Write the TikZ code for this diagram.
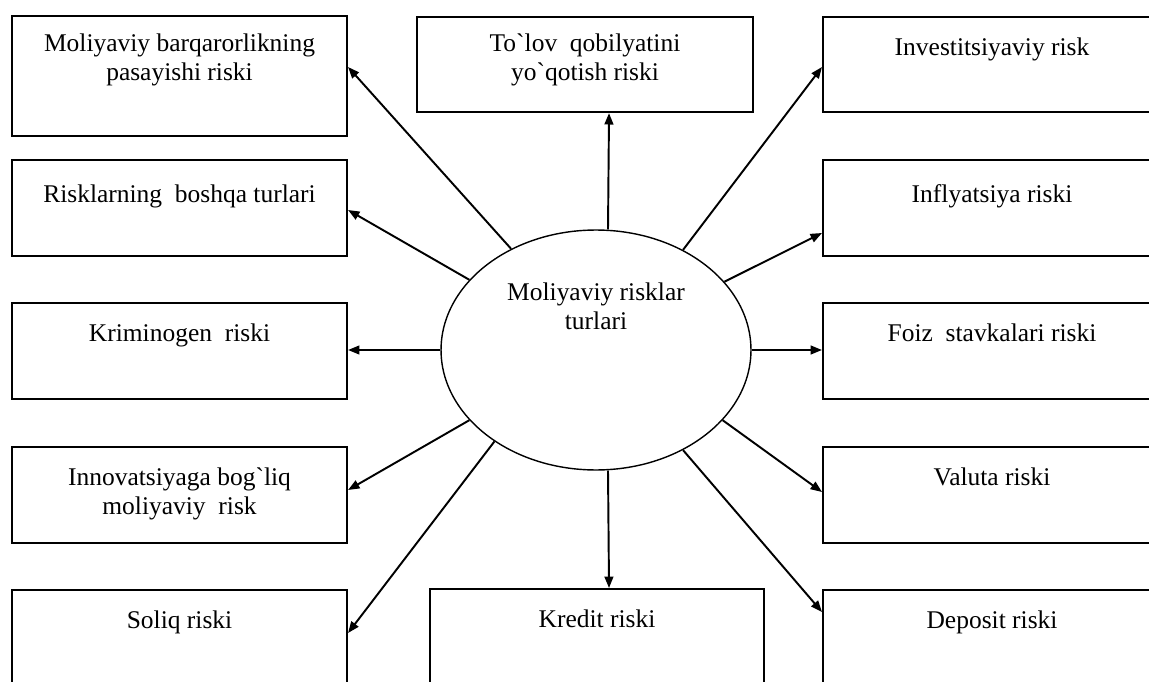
\documentclass[tikz,border=0pt]{standalone}
\usepackage{fontspec}
\setmainfont{Liberation Serif}
\usetikzlibrary{arrows.meta,calc,shapes.geometric}

\begin{document}
\begin{tikzpicture}[x=0.02cm,y=-0.02cm,
font=\fontsize{14.5}{16.5}\selectfont,
riskbox/.style={draw,line width=1.2pt,anchor=north west,minimum width=6.7cm,minimum height=1.92cm,inner sep=0pt},
boxtext/.style={anchor=north,inner sep=0pt,align=center,yshift=#1},
boxtext/.default=-0.42cm,
riskarrow/.style={-{Triangle[length=6.5pt,width=5pt]},line width=1.1pt},
%riskbox/.style={draw,text width=6.7cm},
]
\useasboundingbox (0,0) rectangle (1149,682);
\fill[white] (0,0) rectangle (1149,682);

% markaz
\node[draw,ellipse,line width=0.8pt,minimum width=6.2cm,minimum height=4.8cm,
	label={[boxtext=-1.06cm]north:{Moliyaviy risklar\\turlari}}] (markaz) at (596,350) {};

% chap ustun
\node[riskbox,minimum height=2.4cm,label={[boxtext=-0.36cm]north:{Moliyaviy barqarorlikning\\pasayishi riski}}] (barqaror) at (11,15) {};
\node[riskbox,label={[boxtext=-0.5cm]north:{Risklarning\ \ boshqa turlari}}] (boshqa) at (11,159) {};
\node[riskbox,label={[boxtext]north:{Kriminogen\ \ riski}}] (krim) at (11,302) {};
\node[riskbox,label={[boxtext]north:{Innovatsiyaga bog\textasciigrave liq\\moliyaviy\ \ risk}}] (innov) at (11,446) {};
\node[riskbox,minimum height=2.3cm,label={[boxtext]north:{Soliq riski}}] (soliq) at (11,589) {};

% o'rta
\node[riskbox,minimum width=6.72cm,minimum height=1.9cm,label={[boxtext=-0.35cm]north:{To\textasciigrave lov\ \ qobilyatini\\yo\textasciigrave qotish riski}}] (tolov) at (416,16) {};
\node[riskbox,minimum width=6.68cm,minimum height=2.3cm,label={[boxtext]north:{Kredit riski}}] (kredit) at (429,588) {};

% o'ng ustun
\node[riskbox,minimum width=6.76cm,minimum height=1.9cm,label={[boxtext]north:{Investitsiyaviy risk}}] (invest) at (822,16) {};
\node[riskbox,minimum width=6.76cm,label={[boxtext=-0.5cm]north:{Inflyatsiya riski}}] (infl) at (822,159) {};
\node[riskbox,minimum width=6.76cm,label={[boxtext]north:{Foiz\ \ stavkalari riski}}] (foiz) at (822,302) {};
\node[riskbox,minimum width=6.76cm,label={[boxtext]north:{Valuta riski}}] (valuta) at (822,446) {};
\node[riskbox,minimum width=6.76cm,minimum height=2.3cm,label={[boxtext]north:{Deposit riski}}] (deposit) at (822,589) {};

% strelkalar
\draw[riskarrow] (markaz.130) -- ($(barqaror.north east)+(0,52)$);
\draw[riskarrow] (markaz.151) -- ($(boshqa.north east)+(0,51)$);
\draw[riskarrow] (markaz.west) -- ($(krim.north east)+(0,48)$);
\draw[riskarrow] (markaz.209) -- ($(innov.north east)+(0,44)$);
\draw[riskarrow] (markaz.222) -- ($(soliq.north east)+(0,44)$);
\draw[riskarrow] ($(markaz.north)+(12,0)$) -- ($(tolov.south)+(24,0)$);
\draw[riskarrow] ($(markaz.south)+(12,0)$) -- ($(kredit.north)+(12,0)$);
\draw[riskarrow] (markaz.49) -- ($(invest.north west)+(0,51)$);
\draw[riskarrow] (markaz.28) -- ($(infl.north west)+(0,74)$);
\draw[riskarrow] (markaz.east) -- ($(foiz.north west)+(0,48)$);
\draw[riskarrow] (markaz.331) -- ($(valuta.north west)+(0,46)$);
\draw[riskarrow] (markaz.311) -- ($(deposit.north west)+(0,23)$);
\end{tikzpicture}
\end{document}
